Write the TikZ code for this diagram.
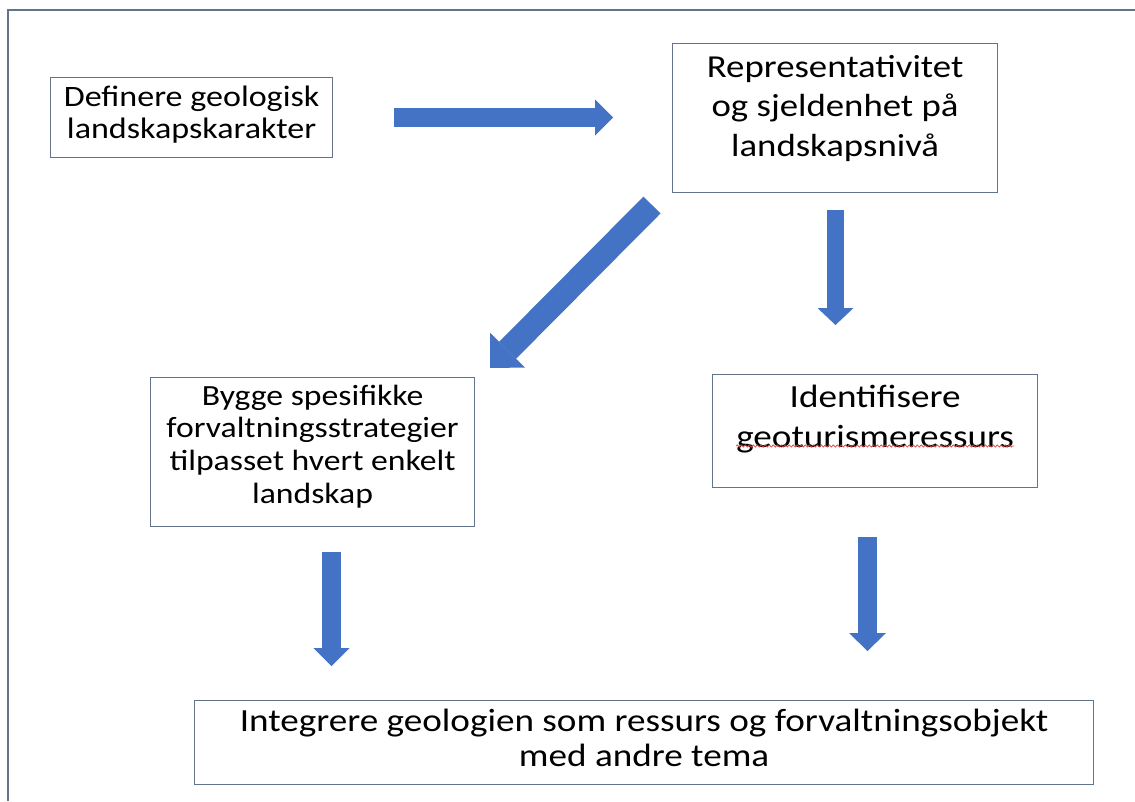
\documentclass[tikz,border=0pt]{standalone}
\usepackage{fontspec}
\setmainfont{Carlito}[FakeStretch=1.15]
\usetikzlibrary{arrows.meta,decorations.pathmorphing,calc}
\definecolor{arrowblue}{HTML}{4472C4}
\definecolor{boxline}{RGB}{100,115,140}
\definecolor{spellred}{RGB}{228,60,60}

\begin{document}
\begin{tikzpicture}[x=1pt,y=-1pt,
  stepbox/.style={draw=boxline,line width=1.2pt,inner sep=0pt,anchor=north west},
  boxtext/.style={align=center,inner sep=0pt,anchor=north,text=black},
  blockarrow/.style n args={3}{draw=arrowblue,line width=#1,
    -{Triangle[length=#2,width=#3,line width=0pt]}},
  spellmark/.style={draw=spellred,line width=0.7pt,decorate,
    decoration={snake,amplitude=1.1pt,segment length=4pt}}
]
\useasboundingbox (0,0) rectangle (1135,801);

% outer frame
\draw[boxline,line width=1.2pt] (1135,10) -- (8,10) -- (8,801);

% boxes
\node[stepbox,minimum width=282pt,minimum height=80pt]  (b1) at (50,77)   {};
\node[stepbox,minimum width=325pt,minimum height=149pt] (b2) at (672,43)  {};
\node[stepbox,minimum width=324pt,minimum height=149pt] (b3) at (150,377) {};
\node[stepbox,minimum width=325pt,minimum height=113pt] (b4) at (712,374) {};
\node[stepbox,minimum width=899pt,minimum height=84pt]  (b5) at (194,700) {};

% box texts (first baseline sits 0.7 baselineskip below the node top)
\node[boxtext,font=\fontsize{29.6}{32}\selectfont] (t1) at ($(b1.north)+(0,6.6)$)
  {\strut Definere geologisk\\landskapskarakter};
\node[boxtext,font=\fontsize{32}{39.5}\selectfont] (t2) at ($(b2.north)+(0,6.35)$)
  {\strut Representativitet\\og sjeldenhet på\\landskapsnivå};
\node[boxtext,font=\fontsize{29.3}{32.7}\selectfont] (t3) at ($(b3.north)+(0,5.1)$)
  {\strut Bygge spesifikke\\forvaltningsstrategier\\tilpasset hvert enkelt\\landskap};
\node[boxtext,font=\fontsize{32.3}{40}\selectfont] (t4) at ($(b4.north)+(0,5)$)
  {\strut Identifisere\\geoturismeressurs};
\node[boxtext,font=\fontsize{32.3}{35}\selectfont] (t5) at ($(b5.north)+(0,6.5)$)
  {\strut Integrere geologien som ressurs og forvaltningsobjekt\\med andre tema};

% spelling underline
\draw[spellmark] ($(t4.south west)+(0,-7)$) -- ($(t4.south east)+(0,-7)$);

% arrow end points
\coordinate (a1s) at (394,117.5);  \coordinate (a1e) at (613,117.5);
\coordinate (a2s) at (652,205);    \coordinate (a2e) at (490,368);
\coordinate (a3s) at (835.5,210);  \coordinate (a3e) at (835.5,325);
\coordinate (a4s) at (331.5,552);  \coordinate (a4e) at (331.5,666);
\coordinate (a5s) at (867.5,537);  \coordinate (a5e) at (867.5,651);

% block arrows
\draw[blockarrow={19pt}{18pt}{36pt}] (a1s) -- (a1e);
\draw[blockarrow={24pt}{25pt}{49pt}] (a2s) -- (a2e);
\draw[blockarrow={17pt}{17pt}{36pt}] (a3s) -- (a3e);
\draw[blockarrow={19pt}{18pt}{36pt}] (a4s) -- (a4e);
\draw[blockarrow={19pt}{18pt}{37pt}] (a5s) -- (a5e);
\end{tikzpicture}
\end{document}
